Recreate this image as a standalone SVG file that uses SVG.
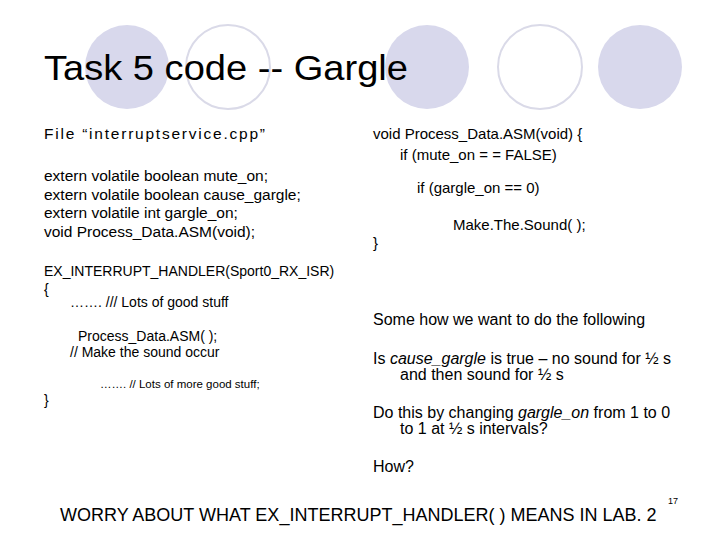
<svg xmlns="http://www.w3.org/2000/svg" width="720" height="540" viewBox="0 0 720 540">
<style>
text{font-family:"Liberation Sans",Arial,sans-serif;fill:#000}
.b{font-size:15.5px}
.c{font-size:14px}
.r{font-size:15px}
.r2{font-size:16px}
.s{font-size:11.5px}
.f{fill:#d8d8ec}
.o{fill:none;stroke:#dadae8;stroke-width:2}
</style>
<rect width="720" height="540" fill="#fff"/>
<g id="decor">
<circle class="f" cx="127" cy="67" r="42"/>
<circle class="o" cx="228" cy="67" r="42"/>
<circle class="f" cx="427" cy="67" r="42"/>
<circle class="o" cx="540" cy="67" r="42"/>
<circle class="f" cx="640" cy="67" r="42"/>
</g>
<text x="44" y="80" font-size="35" textLength="364" lengthAdjust="spacingAndGlyphs">Task 5 code -- Gargle</text>
<g id="left" class="b">
<text x="44" y="139" textLength="221" lengthAdjust="spacing">File “interruptservice.cpp”</text>
<text x="44" y="181">extern volatile boolean mute_on;</text>
<text x="44" y="200">extern volatile boolean cause_gargle;</text>
<text x="44" y="218">extern volatile int gargle_on;</text>
<text x="44" y="237">void Process_Data.ASM(void);</text>
<g class="c">
<text x="44" y="276">EX_INTERRUPT_HANDLER(Sport0_RX_ISR)</text>
<text x="44" y="294">{</text>
<text x="70" y="307">……. /// Lots of good stuff</text>
<text x="78" y="341">Process_Data.ASM( );</text>
<text x="70" y="357">// Make the sound occur</text>
<text x="44" y="405">}</text>
</g>
<text x="100" y="388" class="s">……. // Lots of more good stuff;</text>
</g>
<g id="right" class="r">
<text x="373" y="139">void Process_Data.ASM(void) {</text>
<text x="400" y="160">if (mute_on = = FALSE)</text>
<text x="417" y="193">if (gargle_on == 0)</text>
<text x="453" y="230">Make.The.Sound( );</text>
<text x="373" y="248">}</text>
<g class="r2">
<text x="373" y="325">Some how we want to do the following</text>
<text x="373" y="364">Is <tspan font-style="italic">cause_gargle</tspan> is true – no sound for ½ s</text>
<text x="400" y="380">and then sound for ½ s</text>
<text x="373" y="418">Do this by changing <tspan font-style="italic">gargle_on</tspan> from 1 to 0</text>
<text x="400" y="434">to 1 at ½ s intervals?</text>
<text x="373" y="472">How?</text>
</g>
</g>
<text x="60" y="521" font-size="18">WORRY ABOUT WHAT EX_INTERRUPT_HANDLER( ) MEANS IN LAB. 2</text>
<text x="668" y="504" font-size="9">17</text>
</svg>
